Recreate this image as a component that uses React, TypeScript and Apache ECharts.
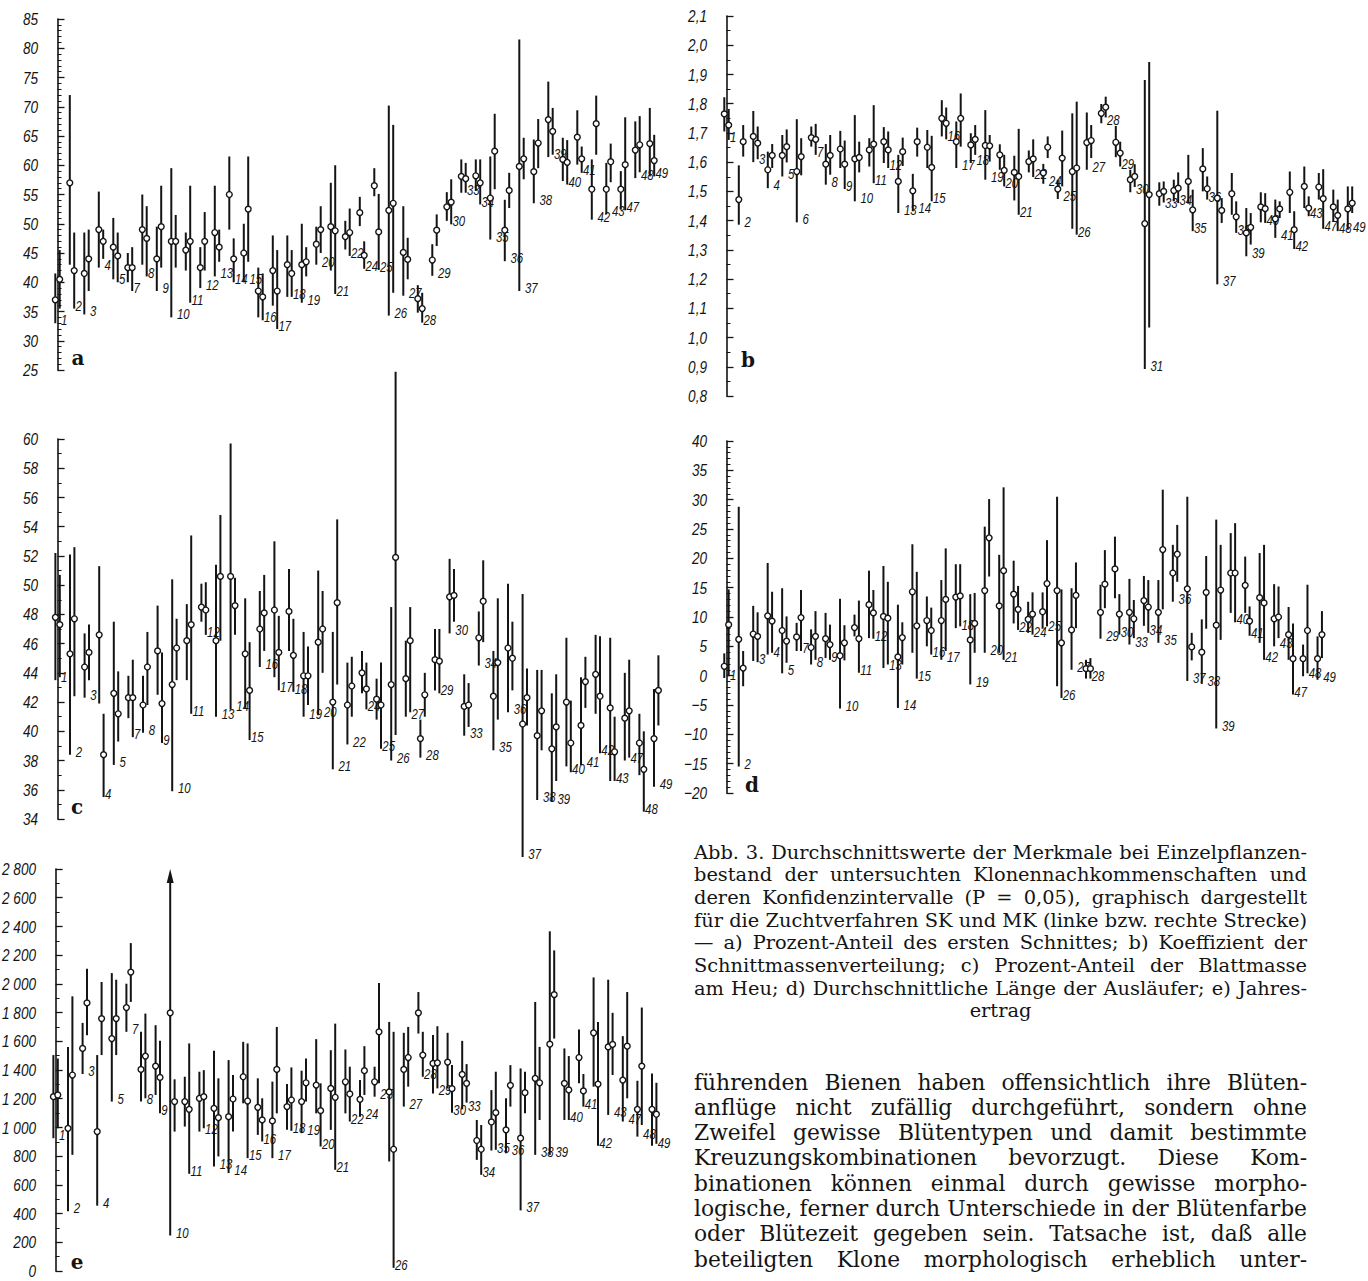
import React, { useEffect, useRef } from "react";
import * as echarts from "echarts";

type Tri = [number, number, number];

// clone numbers (categories)
const CLONES = [1, 2, 3, 4, 5, 7, 8, 9, 10, 11, 12, 13, 14, 15, 16, 17, 18, 19, 20, 21, 22, 24, 25, 26, 27, 28, 29, 30, 33, 34, 35, 36, 37, 38, 39, 40, 41, 42, 43, 47, 48, 49];
const CLONES_B = [1, 2, 3, 4, 5, 6, 7, 8, 9, 10, 11, 12, 13, 14, 15, 16, 17, 18, 19, 20, 21, 22, 24, 25, 26, 27, 28, 29, 30, 31, 33, 34, 35, 36, 37, 38, 39, 40, 41, 42, 43, 47, 48, 49];

// tick values and labels
const A_TICKS = [25, 30, 35, 40, 45, 50, 55, 60, 65, 70, 75, 80, 85];
const A_TICK_LABELS = ["25", "30", "35", "40", "45", "50", "55", "60", "65", "70", "75", "80", "85"];
const B_TICKS = [0.8, 0.9, 1.0, 1.1, 1.2, 1.3, 1.4, 1.5, 1.6, 1.7, 1.8, 1.9, 2.0, 2.1];
const B_TICK_LABELS = ["0,8", "0,9", "1,0", "1,1", "1,2", "1,3", "1,4", "1,5", "1,6", "1,7", "1,8", "1,9", "2,0", "2,1"];
const C_TICKS = [34, 36, 38, 40, 42, 44, 46, 48, 50, 52, 54, 56, 58, 60];
const C_TICK_LABELS = ["34", "36", "38", "40", "42", "44", "46", "48", "50", "52", "54", "56", "58", "60"];
const D_TICKS = [-20, -15, -10, -5, 0, 5, 10, 15, 20, 25, 30, 35, 40];
const D_TICK_LABELS = ["−20", "−15", "−10", "−5", "0", "5", "10", "15", "20", "25", "30", "35", "40"];
const E_TICKS = [0, 200, 400, 600, 800, 1000, 1200, 1400, 1600, 1800, 2000, 2200, 2400, 2600, 2800];
const E_TICK_LABELS = ["0", "200", "400", "600", "800", "1 000", "1 200", "1 400", "1 600", "1 800", "2 000", "2 200", "2 400", "2 600", "2 800"];

// a) Prozent-Anteil des ersten Schnittes  [lo, mean, hi]
const A_SK: Tri[] = [[33, 37, 41.5], [43, 57, 72], [34.5, 41.5, 48.5], [42.5, 49, 55.5], [40.5, 46, 51], [40, 42.5, 45], [43, 49, 55], [38.5, 44, 49.5], [34, 47, 59.5], [42, 45.5, 48.5], [39, 42.5, 46], [41, 48.5, 56.5], [49, 55, 61.5], [40, 45, 50], [34, 38.5, 42.5], [36, 42, 48], [37.5, 43, 48], [36.5, 43, 50], [43, 46.5, 49.5], [42, 49.5, 57], [45.6, 47.8, 50.5], [49.6, 51.9, 54.6], [54.7, 56.5, 59.5], [34.3, 52.3, 70.2], [37.7, 45.1, 53], [34.8, 37.2, 39.5], [41.1, 43.8, 46.5], [50.5, 52.9, 55.4], [55.3, 58.1, 61], [55.6, 58.2, 61], [47.3, 54.4, 61.5], [43.6, 48.9, 54.1], [38.5, 59.8, 81.5], [53.5, 58.9, 64.4], [61.4, 67.8, 74.3], [57.3, 61, 64.7], [60.1, 64.8, 69.4], [50.7, 55.9, 61], [51.6, 55.9, 60.4], [52.4, 55.9, 59], [57.8, 62.6, 67.5], [58.1, 63.7, 69.8]];
const A_MK: Tri[] = [[35.5, 40.5, 45.5], [35.5, 42, 48.5], [38.5, 44, 49], [44, 47, 49], [40, 44.5, 48.5], [38.5, 42.5, 46], [41, 47.5, 53], [42.5, 49.5, 56.5], [42.5, 47, 51.5], [36.5, 47, 56.5], [42, 47, 52], [43.5, 46, 49], [40, 44, 47.5], [43.5, 52.5, 61.5], [33.5, 37.5, 41.5], [32, 38.5, 45.5], [37.5, 41.5, 45.5], [41, 43.5, 46], [45, 49, 53], [38, 48.8, 60], [44.5, 48.5, 52.6], [42.3, 44.6, 47], [42.1, 48.6, 55.1], [38.2, 53.5, 66.9], [40.5, 43.9, 47.6], [33.1, 35.5, 38.2], [46.2, 48.9, 51.6], [49.9, 53.7, 57.6], [55.3, 57.7, 60.4], [53.3, 57, 61], [55.9, 62.4, 68.8], [52.7, 55.7, 58.7], [57.6, 61.1, 64.7], [59.5, 63.8, 67.9], [61.8, 65.8, 69.8], [56.7, 60.5, 64.3], [58.7, 61.1, 63.2], [61.8, 67.1, 71.9], [57.1, 60.6, 63.7], [52.3, 60.1, 68.2], [58.8, 63.5, 68.4], [58.1, 60.8, 65.2]];

// b) Koeffizient der Schnittmassenverteilung
const B_SK: Tri[] = [[1.705, 1.765, 1.822], [1.386, 1.472, 1.589], [1.6, 1.688, 1.775], [1.511, 1.574, 1.636], [1.551, 1.623, 1.693], [1.394, 1.568, 1.747], [1.653, 1.684, 1.722], [1.523, 1.593, 1.662], [1.58, 1.645, 1.707], [1.466, 1.611, 1.761], [1.585, 1.642, 1.682], [1.597, 1.67, 1.72], [1.426, 1.534, 1.625], [1.432, 1.502, 1.56], [1.58, 1.651, 1.71], [1.688, 1.75, 1.812], [1.58, 1.67, 1.739], [1.597, 1.659, 1.699], [1.54, 1.657, 1.778], [1.574, 1.625, 1.661], [1.469, 1.565, 1.622], [1.565, 1.602, 1.64], [1.526, 1.563, 1.594], [1.474, 1.508, 1.54], [1.372, 1.568, 1.767], [1.574, 1.667, 1.77], [1.733, 1.767, 1.799], [1.617, 1.668, 1.724], [1.497, 1.54, 1.574], [0.892, 1.39, 1.881], [1.451, 1.492, 1.531], [1.466, 1.503, 1.54], [1.458, 1.534, 1.625], [1.5, 1.577, 1.648], [1.182, 1.477, 1.776], [1.42, 1.492, 1.563], [1.278, 1.358, 1.443], [1.394, 1.447, 1.497], [1.341, 1.406, 1.472], [1.426, 1.497, 1.568], [1.443, 1.517, 1.585], [1.472, 1.515, 1.563], [1.398, 1.447, 1.506], [1.369, 1.44, 1.517]];
const B_MK: Tri[] = [[1.676, 1.727, 1.782], [1.619, 1.67, 1.727], [1.61, 1.665, 1.722], [1.58, 1.623, 1.662], [1.599, 1.653, 1.712], [1.555, 1.619, 1.682], [1.625, 1.678, 1.731], [1.557, 1.623, 1.693], [1.508, 1.593, 1.674], [1.565, 1.616, 1.67], [1.528, 1.662, 1.795], [1.58, 1.642, 1.705], [1.587, 1.636, 1.684], [1.619, 1.67, 1.718], [1.466, 1.582, 1.69], [1.678, 1.733, 1.787], [1.653, 1.75, 1.835], [1.625, 1.678, 1.727], [1.602, 1.656, 1.693], [1.517, 1.572, 1.625], [1.42, 1.551, 1.714], [1.549, 1.611, 1.678], [1.614, 1.651, 1.688], [1.517, 1.614, 1.708], [1.352, 1.58, 1.807], [1.614, 1.674, 1.727], [1.753, 1.788, 1.824], [1.585, 1.631, 1.67], [1.515, 1.551, 1.593], [1.034, 1.489, 1.943], [1.462, 1.5, 1.534], [1.46, 1.511, 1.565], [1.364, 1.437, 1.506], [1.472, 1.509, 1.551], [1.392, 1.435, 1.477], [1.358, 1.413, 1.466], [1.318, 1.377, 1.426], [1.392, 1.441, 1.494], [1.409, 1.44, 1.466], [1.303, 1.369, 1.432], [1.415, 1.443, 1.483], [1.372, 1.475, 1.576], [1.364, 1.418, 1.472], [1.426, 1.46, 1.517]];

// c) Prozent-Anteil der Blattmasse am Heu
const C_SK: Tri[] = [[43.5, 47.8, 52.2], [38.4, 45.3, 52.1], [42.3, 44.4, 46.7], [41.9, 46.6, 51.3], [37.7, 42.6, 47.5], [40.9, 42.3, 43.8], [39.9, 41.8, 43.8], [42.5, 45.5, 48.6], [35.9, 43.2, 50.4], [43.5, 46.2, 48.7], [47.5, 48.5, 50.1], [41, 46.2, 51.4], [41.5, 50.6, 59.7], [41.6, 45.3, 49.1], [44.4, 47, 49.6], [43.7, 48.3, 53], [45.5, 48.2, 51.1], [41, 43.8, 46.8], [41.1, 46.1, 51], [37.4, 42, 46.8], [39.1, 41.8, 44.7], [42.6, 44, 45.5], [40.8, 42.2, 43.6], [38, 43.2, 48.5], [41, 43.6, 46.2], [38.2, 39.5, 40.8], [42.8, 44.9, 47], [46.7, 49.2, 51.8], [39.7, 41.7, 43.9], [44.5, 46.4, 48.2], [38.7, 42.4, 45.5], [41.3, 45.7, 50.1], [31.4, 40.5, 49.4], [35.3, 39.7, 44.2], [35.2, 38.8, 42.6], [37.6, 42, 46.4], [37.7, 40.4, 43.7], [41.2, 43.9, 46.6], [36.6, 41.6, 46.4], [38, 40.9, 44], [37, 39.2, 41.2], [36.2, 39.5, 42.9]];
const C_MK: Tri[] = [[43.7, 47.3, 50.7], [42.4, 47.7, 52.6], [43.5, 45.4, 47.3], [35.5, 38.4, 41.2], [39.3, 41.2, 44.1], [39.6, 42.3, 44.9], [41.8, 44.4, 46.8], [39.2, 41.9, 45.4], [43.5, 45.7, 47.7], [41.2, 47.3, 53.4], [46.6, 48.3, 50.2], [46.2, 50.6, 54.8], [46.6, 48.6, 50.5], [39.4, 42.8, 46.1], [45.5, 48.1, 50.7], [42.8, 45.4, 47.9], [42.7, 45.2, 47.7], [41.8, 43.8, 45.8], [44, 47, 49.6], [43.2, 48.8, 54.5], [41, 43.1, 45.1], [41.5, 42.9, 44.7], [38.8, 41.8, 44.7], [39.75, 51.9, 64.6], [41.3, 46.2, 48.5], [41, 42.5, 44], [42.6, 44.8, 47], [47.5, 49.3, 51.1], [40.3, 41.8, 43.3], [46.1, 48.9, 51.7], [40.8, 44.7, 49.1], [42.8, 45, 47.5], [40.4, 42.3, 44.3], [38.7, 41.4, 44.2], [36.6, 40.3, 43.9], [37.2, 39.2, 42.1], [41.6, 43.4, 45.1], [38.5, 42.4, 46.5], [36.6, 38.6, 41], [38.2, 41.4, 44.9], [34.5, 37.4, 40], [40.4, 42.8, 45.2]];

// d) Durchschnittliche Länge der Ausläufer
const D_SK: Tri[] = [[-0.4, 1.6, 3.8], [-15.5, 6.2, 28.8], [2.5, 7.1, 11.9], [3.6, 10.2, 19.2], [0.4, 7.7, 14.9], [4.2, 6.6, 9], [1.9, 4.8, 7.9], [3, 6.3, 10.7], [-5.6, 3.4, 13.1], [6.7, 8.2, 10.4], [6.4, 12.1, 17.9], [1.3, 10.1, 18.7], [-5.5, 3.2, 12.1], [3.9, 14.3, 22.4], [5, 9.4, 13.5], [2.7, 9.4, 16.3], [8.1, 13.4, 19], [-1.5, 6.1, 13.9], [3.9, 14.5, 25.4], [3.9, 11.9, 20.6], [8.9, 13.9, 19.6], [7.3, 9.6, 12.6], [8, 10.9, 14.2], [-1.8, 14.5, 30.5], [1, 7.8, 14.9], [-0.5, 1.2, 2.7], [6.3, 10.8, 15.5], [13.2, 18.2, 23.7], [5.3, 10.8, 16.5], [8.5, 12.8, 17], [5.6, 10.8, 16.3], [12.6, 17.5, 22.3], [-0.9, 14.8, 30.5], [-1.4, 4, 9.6], [-9, 8.6, 26.6], [10.7, 17.5, 24.3], [10.7, 15.4, 20.3], [5.6, 13.3, 20.9], [5, 9.7, 15.6], [2.7, 7, 11.7], [-0.1, 2.9, 5.3], [-0.7, 2.9, 6.7]];
const D_MK: Tri[] = [[-0.1, 8.7, 14.7], [-1.8, 1.3, 4.2], [2.3, 6.7, 10.8], [3.9, 9.3, 14.3], [2.2, 5.9, 10.1], [4.2, 9.9, 14.6], [2.7, 6.7, 11], [2.7, 5.3, 8.7], [2.6, 5.6, 8.6], [0.5, 6.3, 12.8], [6.3, 10.7, 14.6], [1.9, 9.8, 16], [1.9, 6.5, 9.1], [-0.5, 8.5, 17.7], [3.6, 7.7, 11.6], [4.2, 13, 21.7], [8.4, 13.6, 19], [3.9, 8.9, 14.1], [16.9, 23.5, 30.1], [2.7, 17.9, 32.1], [7.8, 11.3, 15.3], [7, 10.5, 14.2], [8.4, 15.7, 23.1], [-3.8, 5.6, 14.7], [8.1, 13.7, 19.3], [-0.5, 1.2, 3], [11.5, 15.6, 21.4], [7, 10.5, 13.9], [6.4, 9.7, 12.9], [7.3, 11.7, 16.3], [11.3, 21.5, 31.7], [16, 20.7, 25.7], [2.6, 4.9, 7.3], [8, 14.2, 20.4], [6.1, 14.6, 22.3], [9.1, 17.5, 26], [6.8, 9.3, 11.8], [2.7, 12.4, 22.3], [6.4, 10, 15.2], [-3.2, 2.9, 8.9], [0.4, 7.7, 15.5], [3, 7, 11]];

// e) Jahresertrag
const E_SK: Tri[] = [[925, 1214, 1504], [416, 994, 1561], [1372, 1550, 1728], [455, 971, 1504], [1180, 1619, 2075], [1666, 1835, 2001], [1180, 1404, 1666], [1226, 1427, 1712], [247, 1798, 2800], [1006, 1180, 1353], [971, 1203, 1388], [728, 1133, 1534], [682, 1075, 1469], [1168, 1353, 1596], [948, 1140, 1342], [786, 1045, 1319], [983, 1145, 1302], [960, 1180, 1395], [1098, 1295, 1615], [983, 1272, 1538], [1098, 1318, 1543], [1075, 1196, 1330], [1214, 1318, 1423], [763, 1247, 1735], [1145, 1404, 1659], [1654, 1798, 1943], [1237, 1446, 1643], [1272, 1455, 1659], [1126, 1369, 1603], [774, 909, 1052], [839, 1038, 1260], [821, 983, 1203], [422, 925, 1411], [809, 1342, 1874], [809, 1580, 2366], [1052, 1307, 1550], [1307, 1487, 1682], [1284, 1659, 2045], [1087, 1561, 2029], [1041, 1330, 1636], [936, 1126, 1325], [872, 1126, 1376]];
const E_MK: Tri[] = [[994, 1226, 1480], [809, 1365, 1913], [1642, 1867, 2105], [1504, 1758, 2013], [1504, 1758, 2029], [1874, 2082, 2284], [1203, 1497, 1793], [1098, 1348, 1603], [971, 1180, 1335], [677, 1126, 1585], [994, 1214, 1399], [798, 1068, 1342], [971, 1198, 1365], [786, 1184, 1585], [902, 1052, 1203], [1098, 1404, 1700], [976, 1191, 1418], [1180, 1311, 1480], [867, 1117, 1307], [705, 1210, 1723], [1041, 1233, 1423], [1226, 1395, 1566], [1307, 1666, 2006], [22, 848, 1666], [1284, 1487, 1700], [1353, 1504, 1666], [1272, 1450, 1705], [1103, 1270, 1434], [1173, 1307, 1441], [670, 848, 1017], [844, 1103, 1388], [1145, 1293, 1434], [1098, 1242, 1388], [1052, 1311, 1561], [1619, 1925, 2233], [1052, 1261, 1497], [1145, 1254, 1372], [872, 1302, 1735], [1365, 1578, 1798], [1203, 1566, 1943], [1017, 1427, 1835], [886, 1092, 1311]];

const PANEL_LETTERS = ["a", "b", "c", "d", "e"];

const CAPTION = [
  "Abb. 3. Durchschnittswerte der Merkmale bei Einzelpflanzen-",
  "bestand der untersuchten Klonennachkommenschaften und",
  "deren Konfidenzintervalle (P = 0,05), graphisch dargestellt",
  "für die Zuchtverfahren SK und MK (linke bzw. rechte Strecke)",
  "— a) Prozent-Anteil des ersten Schnittes; b) Koeffizient der",
  "Schnittmassenverteilung; c) Prozent-Anteil der Blattmasse",
  "am Heu; d) Durchschnittliche Länge der Ausläufer; e) Jahres-",
  "ertrag",
];

const BODY = [
  "führenden Bienen haben offensichtlich ihre Blüten-",
  "anflüge nicht zufällig durchgeführt, sondern ohne",
  "Zweifel gewisse Blütentypen und damit bestimmte",
  "Kreuzungskombinationen bevorzugt. Diese Kom-",
  "binationen können einmal durch gewisse morpho-",
  "logische, ferner durch Unterschiede in der Blütenfarbe",
  "oder Blütezeit gegeben sein. Tatsache ist, daß alle",
  "beteiligten Klone morphologisch erheblich unter-",
];

const INK = "#141414";
const SANS = "'Liberation Sans', 'DejaVu Sans', sans-serif";
const SERIF = "'Liberation Serif', 'Times New Roman', serif";
const TEXT_SERIF = "'DejaVu Serif', 'Liberation Serif', serif";
const CHART_W = 1368;

function textBlock(lines: string[], x0: number, w: number, y0: number, lh: number, maxSize: number, centerLast: boolean) {
  const ctx = document.createElement("canvas").getContext("2d") as CanvasRenderingContext2D;
  ctx.font = `100px ${TEXT_SERIF}`;
  const nat = lines.map((l, i) => (centerLast && i === lines.length - 1 ? 0 : ctx.measureText(l).width));
  const size = Math.min(maxSize, (w * 100) / Math.max(...nat));
  ctx.font = `${size}px ${TEXT_SERIF}`;
  const els: any[] = [];
  lines.forEach((line, i) => {
    const y = y0 + i * lh;
    if (centerLast && i === lines.length - 1) {
      els.push({ type: "text", x: x0 + w / 2, y, silent: true, style: { text: line, fontSize: size, fontFamily: TEXT_SERIF, fill: INK, align: "center", verticalAlign: "middle" } });
      return;
    }
    const words = line.split(" ");
    const ws = words.map((s) => ctx.measureText(s).width);
    const sum = ws.reduce((a, b) => a + b, 0);
    const gap = words.length > 1 ? (w - sum) / (words.length - 1) : 0;
    let x = x0;
    words.forEach((wd, j) => {
      els.push({ type: "text", x, y, silent: true, style: { text: wd, fontSize: size, fontFamily: TEXT_SERIF, fill: INK, align: "left", verticalAlign: "middle" } });
      x += ws[j] + gap;
    });
  });
  return els;
}

function makeSeries(k: number, clones: number[], sk: Tri[], mk: Tri[], arrowMax: number) {
  return {
    type: "custom",
    xAxisIndex: k,
    yAxisIndex: k,
    clip: false,
    silent: true,
    data: clones.map((c, i) => [i, ...sk[i], ...mk[i]]),
    renderItem: (params: any, api: any) => {
      const i = api.value(0);
      const cx = api.coord([i, 0])[0];
      const Y = (v: number) => api.coord([i, v])[1];
      const lines: any[] = [];
      const dots: any[] = [];
      const draw = (dx: number, lo: number, mid: number, hi: number) => {
        const x = cx + dx;
        let yTop = Y(hi);
        if (hi >= arrowMax) {
          const yt = Y(arrowMax);
          lines.push({ type: "polygon", shape: { points: [[x, yt], [x - 3.5, yt + 14], [x + 3.5, yt + 14]] }, style: { fill: INK } });
          yTop = yt + 12;
        }
        lines.push({ type: "line", shape: { x1: x, y1: Y(lo), x2: x, y2: yTop }, style: { stroke: INK, lineWidth: 2 } });
        dots.push({ type: "circle", shape: { cx: x, cy: Y(mid), r: 2.9 }, style: { fill: "#fff", stroke: INK, lineWidth: 1.4 } });
      };
      draw(-2.2, api.value(1), api.value(2), api.value(3));
      draw(2.2, api.value(4), api.value(5), api.value(6));
      const lo = Math.min(api.value(1), api.value(4));
      const lx = Math.min(cx + 3.5, CHART_W - 15);
      const label = {
        type: "text",
        x: lx,
        y: Y(lo) - 3,
        scaleX: 0.76,
        style: { text: String(clones[params.dataIndex]), fontSize: 15, fontStyle: "italic", fontFamily: SANS, fill: INK, align: "left", verticalAlign: "middle" },
      };
      return { type: "group", children: [...lines, ...dots, label] };
    },
  };
}

function tickLabelSeries(k: number, ticks: number[], labels: string[]) {
  return {
    type: "custom",
    xAxisIndex: k,
    yAxisIndex: k,
    clip: false,
    silent: true,
    data: ticks.map((v, i) => [-1, v, i]),
    renderItem: (params: any, api: any) => {
      const p = api.coord([api.value(0), api.value(1)]);
      return {
        type: "text",
        x: p[0] - 5,
        y: p[1],
        scaleX: 0.8,
        style: { text: labels[params.dataIndex], fontSize: 17, fontStyle: "italic", fontFamily: SANS, fill: INK, align: "right", verticalAlign: "middle" },
      };
    },
  };
}

function yAxisCfg(k: number, min: number, max: number, interval: number, minorSplit: number) {
  return {
    gridIndex: k,
    type: "value",
    min,
    max,
    interval,
    axisLine: { show: true, lineStyle: { color: INK, width: 1.6 } },
    axisTick: { show: true, inside: true, length: 7, lineStyle: { color: INK, width: 1.3 } },
    minorTick: { show: true, splitNumber: minorSplit, length: 4, lineStyle: { color: INK, width: 1 } },
    axisLabel: { show: false },
    splitLine: { show: false },
    minorSplitLine: { show: false },
  };
}

export default function App() {
  const ref = useRef<HTMLDivElement>(null);
  useEffect(() => {
    document.body.style.margin = "0";
    if (!ref.current) return;
    const chart = echarts.init(ref.current, null, { renderer: "svg" });

    const grids = [
      { left: 43, top: 19, width: 42.5 * 14.5, height: 351 },
      { left: 712, top: 16, width: 44.5 * 14.5, height: 380 },
      { left: 43, top: 439, width: 42.5 * 14.6, height: 380 },
      { left: 712, top: 441, width: 42.5 * 14.47, height: 352 },
      { left: 41, top: 869, width: 42.5 * 14.6, height: 402 },
    ];
    const counts = [CLONES.length, CLONES_B.length, CLONES.length, CLONES.length, CLONES.length];
    const xAxes = counts.map((n, k) => ({ gridIndex: k, type: "value", min: -1, max: n - 0.5, show: false }));
    const yAxes = [
      yAxisCfg(0, 25, 85, 5, 5),
      yAxisCfg(1, 0.8, 2.1, 0.1, 2),
      yAxisCfg(2, 34, 60, 2, 2),
      yAxisCfg(3, -20, 40, 5, 5),
      yAxisCfg(4, 0, 2800, 200, 2),
    ];

    const letterPos = [[78, 358], [748, 360], [77, 807], [752, 785], [77, 1262]];
    const letters = PANEL_LETTERS.map((t, k) => ({
      type: "text",
      x: letterPos[k][0],
      y: letterPos[k][1],
      silent: true,
      style: { text: t, fontSize: 20, fontWeight: "bold", fontFamily: TEXT_SERIF, fill: INK, align: "center", verticalAlign: "middle" },
    }));

    const caption = textBlock(CAPTION, 694, 613, 852, 22.7, 19.5, true);
    const body = textBlock(BODY, 694, 613, 1082, 25.3, 21.8, false);

    chart.setOption({
      animation: false,
      backgroundColor: "#fff",
      grid: grids,
      xAxis: xAxes,
      yAxis: yAxes,
      series: [
        makeSeries(0, CLONES, A_SK, A_MK, Infinity),
        makeSeries(1, CLONES_B, B_SK, B_MK, Infinity),
        makeSeries(2, CLONES, C_SK, C_MK, Infinity),
        makeSeries(3, CLONES, D_SK, D_MK, Infinity),
        makeSeries(4, CLONES, E_SK, E_MK, 2800),
        tickLabelSeries(0, A_TICKS, A_TICK_LABELS),
        tickLabelSeries(1, B_TICKS, B_TICK_LABELS),
        tickLabelSeries(2, C_TICKS, C_TICK_LABELS),
        tickLabelSeries(3, D_TICKS, D_TICK_LABELS),
        tickLabelSeries(4, E_TICKS, E_TICK_LABELS),
      ],
      graphic: [...letters, ...caption, ...body],
    });
    return () => chart.dispose();
  }, []);
  return <div ref={ref} style={{ width: 1368, height: 1281 }} />;
}
